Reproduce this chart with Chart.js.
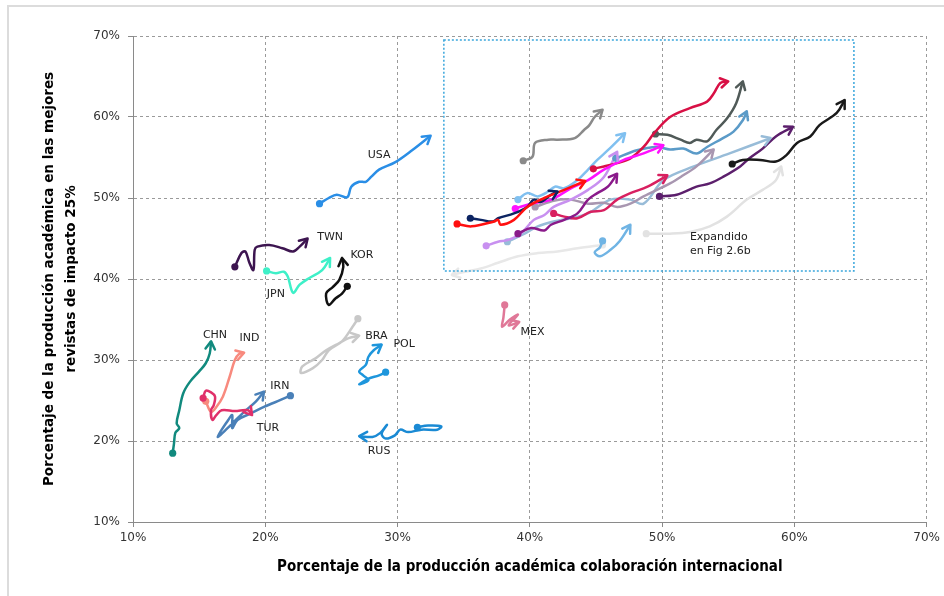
<!DOCTYPE html>
<html>
<head>
<meta charset="utf-8">
<script src="https://cdn.jsdelivr.net/npm/chart.js@4"></script>
<style>
  html, body { margin: 0; padding: 0; background: #fff; overflow: hidden; }
  #chart { display: block; }
</style>
</head>
<body>
<canvas id="chart" width="944" height="596"></canvas>
<script>
// tick labels
const xTickLabels = ['10%', '20%', '30%', '40%', '50%', '60%', '70%'];
const yTickLabels = ['10%', '20%', '30%', '40%', '50%', '60%', '70%'];

// trajectories [collab %, top-25% %], first point = start dot, last = arrow
const usa = [[24.1,49.3],[24.8,50.0],[25.4,50.4],[26.2,50.1],[26.5,51.4],[27.1,52.0],[27.6,52.0],[28.0,52.6],[28.6,53.5],[29.8,54.4],[31.1,55.9],[32.5,57.7]];
const twn = [[17.7,41.5],[18.2,43.2],[18.5,43.4],[18.8,42.0],[19.1,41.1],[19.2,43.6],[19.4,44.0],[20.3,44.2],[21.3,43.8],[22.1,43.4],[22.6,44.0],[23.2,45.0]];
const jpn = [[20.1,41.0],[20.8,40.7],[21.4,40.9],[21.7,40.3],[22.1,38.3],[22.6,39.3],[23.3,40.1],[24.3,41.1],[24.9,42.6]];
const kor = [[26.2,39.1],[25.8,38.2],[25.3,37.6],[24.8,36.8],[24.6,38.2],[25.1,39.0],[25.6,39.9],[25.9,41.5],[25.8,42.6]];
const chn = [[13.0,18.5],[13.1,19.7],[13.2,21.0],[13.5,21.6],[13.3,22.2],[13.5,23.8],[13.8,25.9],[14.3,27.3],[15.0,28.6],[15.5,29.6],[15.8,30.8],[15.9,32.3]];
const ind = [[15.5,24.9],[15.9,23.6],[16.3,24.2],[16.8,25.5],[17.3,27.9],[17.7,30.0],[18.0,30.7],[18.4,30.9]];
const tur = [[15.3,25.3],[15.5,26.2],[15.9,26.0],[16.2,25.5],[16.1,24.4],[15.9,23.8],[16.0,22.6],[16.3,23.2],[16.7,23.8],[17.7,23.7],[18.7,23.8],[19.0,23.2]];
const irn = [[21.9,25.6],[21.2,25.1],[19.9,24.2],[18.9,23.4],[17.9,22.6],[17.5,21.6],[17.5,23.2],[17.2,22.6],[16.4,20.5],[17.4,22.0],[18.4,23.6],[19.3,24.9],[19.9,26.1]];
const bra = [[27.0,35.1],[26.6,34.1],[25.8,32.3],[24.8,31.2],[24.3,30.0],[23.6,29.0],[22.7,28.4],[22.8,29.2],[23.8,30.2],[24.6,31.2],[25.6,32.1],[26.3,32.7],[27.1,33.0]];
const pol = [[29.1,28.5],[28.6,28.1],[27.8,27.7],[27.1,27.0],[27.8,27.5],[27.4,28.1],[27.1,28.6],[27.6,29.4],[27.8,30.4],[28.2,31.2],[28.8,31.9]];
const rus = [[31.5,21.7],[32.3,21.9],[33.3,21.8],[33.0,21.4],[31.8,21.4],[30.8,21.1],[30.2,21.4],[29.8,20.7],[29.1,20.3],[28.8,20.9],[29.2,22.0],[28.7,21.0],[28.1,20.5],[27.1,20.6]];
const mex = [[38.1,36.8],[38.0,35.2],[37.9,34.1],[38.5,35.0],[39.1,35.6],[38.4,34.3],[39.2,34.7]];
// unlabelled trajectories inside the dotted box
const grayTop = [[39.5,54.6],[40.2,55.1],[40.4,56.8],[41.4,57.2],[42.1,57.2],[43.4,57.4],[44.1,58.4],[44.5,59.0],[44.9,60.0],[45.5,60.9]];
const skyTop = [[39.1,49.8],[39.8,50.6],[40.6,50.2],[41.4,50.8],[41.9,51.4],[42.6,51.2],[43.6,52.2],[44.4,53.5],[45.1,54.7],[45.9,55.9],[47.2,58.0]];
const navy = [[35.5,47.5],[36.3,47.3],[37.2,47.1],[37.6,47.5],[38.8,48.1],[39.8,48.9],[40.3,49.8],[40.8,49.5],[41.6,50.4],[42.1,50.8]];
const red = [[34.5,46.8],[35.6,46.5],[37.3,47.1],[37.6,47.3],[37.8,46.7],[38.8,47.3],[39.8,48.9],[41.1,50.0],[42.6,51.0],[44.2,52.1]];
const magenta = [[38.9,48.7],[40.1,49.3],[41.6,49.8],[43.1,51.2],[44.4,52.2],[45.6,53.5],[47.1,54.7],[48.6,55.5],[50.1,56.5]];
const crimsonTop = [[44.8,53.6],[45.6,53.9],[46.6,54.3],[47.6,54.9],[48.6,56.3],[49.4,58.0],[50.6,60.0],[52.1,61.1],[53.4,61.9],[53.9,62.9],[54.4,64.2],[55.0,64.4]];
const darkGray = [[49.5,57.9],[50.4,57.8],[51.4,57.2],[52.1,56.8],[52.6,57.2],[53.4,57.0],[54.1,58.4],[54.9,59.8],[55.6,61.7],[56.1,64.4]];
const steelBlue = [[46.5,54.9],[48.1,55.9],[49.6,56.3],[50.6,56.0],[51.6,56.1],[52.6,55.5],[53.4,56.3],[54.6,57.4],[55.4,58.2],[56.1,59.6],[56.4,60.7]];
const purple = [[39.1,45.6],[40.1,46.3],[41.1,46.0],[41.6,46.7],[42.6,47.3],[43.6,48.1],[44.4,49.8],[45.1,50.6],[45.9,51.4],[46.6,53.0]];
const crimsonThin = [[41.8,48.1],[42.6,47.7],[43.6,47.5],[44.6,48.3],[45.6,48.5],[46.6,49.8],[47.6,50.6],[48.9,51.4],[50.4,52.8]];
const mauve = [[40.4,48.9],[41.9,49.7],[43.1,49.8],[44.4,49.3],[45.6,49.4],[46.6,48.9],[47.6,49.3],[48.6,50.2],[50.6,51.8],[51.6,52.8],[52.6,53.9],[53.9,56.0]];
const lightSteel = [[38.3,44.6],[39.6,45.6],[40.6,46.5],[41.8,47.1],[43.1,47.5],[44.4,48.1],[46.1,49.8],[47.6,49.8],[48.6,49.3],[50.1,52.2],[52.4,53.9],[55.1,55.5],[58.2,57.4]];
const lavender = [[36.7,44.1],[37.6,44.6],[38.3,44.8],[39.3,45.6],[40.3,47.3],[41.1,47.9],[41.8,48.9],[43.1,49.8],[44.4,51.0],[45.6,52.6],[46.6,55.7]];
const darkPurple = [[49.8,50.2],[51.1,50.4],[52.6,51.4],[53.6,51.8],[54.6,52.6],[55.9,53.9],[56.6,54.9],[57.6,56.1],[58.6,57.6],[59.9,58.8]];
const black = [[55.3,54.2],[56.1,54.7],[57.4,54.7],[58.6,54.5],[59.4,55.3],[60.2,56.8],[61.2,57.6],[61.9,59.0],[63.2,60.5],[63.8,62.1]];
const paleGray = [[48.8,45.6],[50.6,45.6],[52.1,45.8],[53.6,46.5],[54.9,47.7],[56.4,49.8],[57.6,51.0],[58.6,52.2],[59.0,53.9]];
const paleGrayLow = [[45.5,44.2],[43.6,43.8],[42.1,43.4],[40.6,43.2],[39.1,42.8],[37.6,42.0],[36.3,41.3],[35.1,40.9],[34.1,40.5]];
const skyLow = [[45.5,44.7],[45.3,43.9],[44.9,43.3],[45.3,42.8],[46.1,43.6],[46.8,44.7],[47.6,46.7]];

// country labels and their positions
const labelText = ['USA', 'TWN', 'KOR', 'JPN', 'CHN', 'IND', 'IRN', 'TUR', 'BRA', 'POL', 'RUS', 'MEX'];
const labelX = [28.6, 24.9, 27.3, 20.8, 16.2, 18.8, 21.1, 20.2, 28.4, 30.5, 28.6, 40.2];
const labelY = [55.3, 45.2, 43.0, 38.1, 33.1, 32.7, 26.8, 21.6, 33.0, 31.9, 18.7, 33.4];

// dotted box (x range, y range) and its note
const boxX = [33.5, 64.5];
const boxY = [41, 69.5];
const noteText = ['Expandido', 'en Fig 2.6b'];
const noteX = [52.1, 52.1];
const noteY = [45.2, 43.5];

// drawing order: first = on top
const series = [
  [usa, '#2a8ee6'], [twn, '#3d1550'], [jpn, '#3ef0c8'], [kor, '#111111'],
  [chn, '#118a7e'], [tur, '#e0306a'], [ind, '#f88a7e'], [irn, '#4a80b8'],
  [bra, '#c8c8c8'], [pol, '#1e96dc'], [rus, '#1a8ad4'], [mex, '#e07898'],
  [red, '#ff1010'], [navy, '#0c2462'], [magenta, '#ff10ff'], [crimsonTop, '#d81045'],
  [darkGray, '#505a58'], [black, '#1a1a1a'], [darkPurple, '#5c1f6c'], [purple, '#8a1a8a'],
  [crimsonThin, '#d82060'], [skyTop, '#80c0f0'], [grayTop, '#8a8a8a'], [steelBlue, '#5b9bc8'],
  [lavender, '#c890f0'], [mauve, '#a896b0'], [lightSteel, '#98bcd8'], [skyLow, '#70b4e4'],
  [paleGray, '#e2e2e2'], [paleGrayLow, '#e8e8e8']
];

const datasets = series.map(([pts, color]) => ({
  data: pts.map(([x, y]) => ({x, y})),
  showLine: true,
  borderColor: color,
  backgroundColor: color,
  borderWidth: 2.5,
  tension: 0.35,
  pointRadius: ctx => ctx.dataIndex === 0 ? 3.6 : 0,
  pointBorderWidth: 0,
  pointHoverRadius: 0,
  pointBackgroundColor: color
}));

// light page frame (top and left edges only)
const frame = {
  id: 'frame',
  beforeDraw(chart) {
    const {ctx, width, height} = chart;
    ctx.save();
    ctx.strokeStyle = '#dcdcdc';
    ctx.lineWidth = 2;
    ctx.beginPath();
    ctx.moveTo(8, height);
    ctx.lineTo(8, 6);
    ctx.lineTo(width, 6);
    ctx.stroke();
    ctx.restore();
  }
};

const overlay = {
  id: 'overlay',
  afterDatasetsDraw(chart) {
    const {ctx, scales: {x, y}} = chart;
    // arrow heads at the end of each trajectory
    chart.data.datasets.forEach((ds, i) => {
      const pts = chart.getDatasetMeta(i).data;
      const a = pts[pts.length - 2], b = pts[pts.length - 1];
      const ang = Math.atan2(b.y - a.y, b.x - a.x);
      const len = 9, spread = 0.55;
      ctx.save();
      ctx.strokeStyle = ds.borderColor;
      ctx.lineWidth = ds.borderWidth;
      ctx.lineCap = 'round';
      ctx.lineJoin = 'round';
      ctx.beginPath();
      ctx.moveTo(b.x - len * Math.cos(ang - spread), b.y - len * Math.sin(ang - spread));
      ctx.lineTo(b.x, b.y);
      ctx.lineTo(b.x - len * Math.cos(ang + spread), b.y - len * Math.sin(ang + spread));
      ctx.stroke();
      ctx.restore();
    });

    // dotted highlight box
    ctx.save();
    ctx.strokeStyle = '#3aa6dc';
    ctx.lineWidth = 1.5;
    ctx.setLineDash([2, 2]);
    const bx1 = x.getPixelForValue(boxX[0]), bx2 = x.getPixelForValue(boxX[1]);
    const by1 = y.getPixelForValue(boxY[1]), by2 = y.getPixelForValue(boxY[0]);
    ctx.strokeRect(bx1, by1, bx2 - bx1, by2 - by1);
    ctx.restore();

    // labels
    ctx.save();
    ctx.fillStyle = '#222';
    ctx.font = '11px "DejaVu Sans"';
    ctx.textAlign = 'center';
    ctx.textBaseline = 'middle';
    labelText.forEach((t, i) => {
      ctx.fillText(t, x.getPixelForValue(labelX[i]), y.getPixelForValue(labelY[i]));
    });
    ctx.textAlign = 'left';
    noteText.forEach((t, i) => {
      ctx.fillText(t, x.getPixelForValue(noteX[i]), y.getPixelForValue(noteY[i]));
    });
    ctx.restore();
  }
};

const tickFont = {family: 'DejaVu Sans', size: 12};

new Chart(document.getElementById('chart'), {
  type: 'scatter',
  data: {datasets},
  options: {
    responsive: false,
    animation: false,
    events: [],
    layout: {padding: {top: 36, right: 13, left: 0, bottom: 0}},
    plugins: {legend: {display: false}, tooltip: {enabled: false}},
    scales: {
      x: {
        type: 'linear', min: 10, max: 70,
        ticks: {stepSize: 10, font: tickFont, color: '#333', padding: 4,
                callback: (v, i) => xTickLabels[i]},
        grid: {color: '#9a9a9a', tickLength: 5, tickColor: '#8a8a8a'},
        border: {dash: [3, 3], color: '#8a8a8a', width: 1},
        title: {display: true, text: 'Porcentaje de la producción académica colaboración internacional',
                font: {family: 'DejaVu Sans Condensed', size: 15, weight: 'bold'}, color: '#000',
                padding: {top: 0, bottom: 20}},
        afterFit: s => { s.height = 74; }
      },
      y: {
        type: 'linear', min: 10, max: 70,
        ticks: {stepSize: 10, font: tickFont, color: '#333', padding: 8,
                callback: (v, i) => yTickLabels[i]},
        grid: {color: '#9a9a9a', tickLength: 5, tickColor: '#8a8a8a'},
        border: {dash: [3, 3], color: '#8a8a8a', width: 1},
        title: {display: true,
                text: ['Porcentaje de la producción académica en las mejores', 'revistas de impacto 25%'],
                font: {family: 'DejaVu Sans', size: 13.5, weight: 'bold', lineHeight: 1.63}, color: '#000',
                padding: {top: 38, bottom: 0}},
        afterFit: s => { s.width = 133; }
      }
    }
  },
  plugins: [frame, overlay]
});
</script>
</body>
</html>
